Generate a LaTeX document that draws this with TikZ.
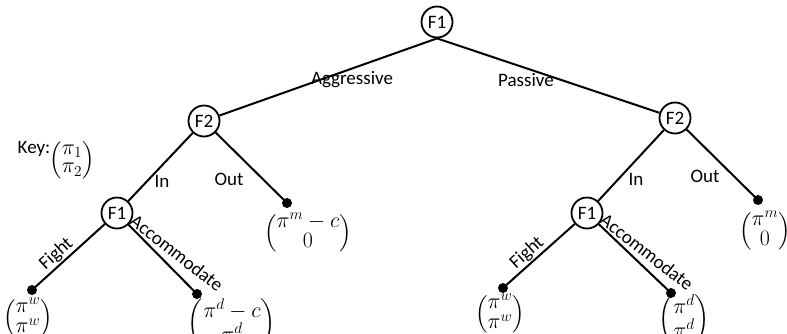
\RequirePackage{fix-cm}
\documentclass[tikz,border=0pt]{standalone}
\usepackage{amsmath}
\usepackage{fontspec}
\setmainfont{Carlito}
\begin{document}
\begin{tikzpicture}[x=1pt,y=-1pt,font=\fontsize{19}{23}\selectfont,
  dec/.style={circle,draw,line width=1.8pt,minimum size=31pt,inner sep=0pt},
  leaf/.style={circle,fill,inner sep=0pt,minimum size=10pt},
  br/.style={line width=2pt},
  lab/.style={inner sep=1pt},
  pay/.style={inner sep=0pt,font=\fontsize{22}{25}\selectfont\renewcommand{\arraystretch}{0.74}}]
\useasboundingbox (0,0) rectangle (787,333);
% decision nodes
\node[dec] (r) at (437,22) {F1};
\node[dec] (a) at (204,121) {F2};
\node[dec] (p) at (675,118) {F2};
\node[dec] (ai) at (117,213) {F1};
\node[dec] (pi) at (587,213) {F1};
% leaves
\node[leaf] (ao) at (287,203) {};
\node[leaf] (po) at (758,200) {};
\node[leaf] (af) at (32,290) {};
\node[leaf] (aa) at (197,294) {};
\node[leaf] (pf) at (503,288) {};
\node[leaf] (pa) at (671,293) {};
% branches
\draw[br] (r.south) -- (a);
\draw[br] (r.south) -- (p);
\draw[br] (a) -- (ai);
\draw[br] (a) -- (ao.center);
\draw[br] (p) -- (pi);
\draw[br] (p) -- (po.center);
\draw[br] (ai) -- node[lab,above,sloped,pos=0.57] {Fight} (af.center);
\draw[br] (ai) -- (aa.center);
\draw[br] (pi) -- node[lab,above,sloped,pos=0.57] {Fight} (pf.center);
\draw[br] (pi) -- (pa.center);
% branch labels
\node[lab] (lag) at (352,80) {Aggressive};
\node[lab] (lpa) at (526,80) {Passive};
\node[lab] (lai) at (162,181) {In};
\node[lab] (lao) at (229,179) {Out};
\node[lab] (lpi) at (636,179) {In};
\node[lab] (lpo) at (705,176) {Out};
\node[lab,rotate=-38] (lac) at (177,253) {Accommodate};
\node[lab,rotate=-38] (lpc) at (647,252) {Accommodate};
% key
\node[lab] (key) at (34,149) {Key:};
\node[pay] (keym) at (72,160) {$\begin{pmatrix}\pi_1\\ \pi_2\end{pmatrix}$};
% payoffs
\node[pay,anchor=north] (paf) at (28,298) {$\begin{pmatrix}\pi^w\\ \pi^w\end{pmatrix}$};
\node[pay,anchor=north] (paa) at (232,298) {$\begin{pmatrix}\pi^d-c\\ \pi^d\end{pmatrix}$};
\node[pay] (pao) at (308,233) {$\begin{pmatrix}\pi^m-c\\ 0\end{pmatrix}$};
\node[pay,anchor=north] (ppf) at (500,294) {$\begin{pmatrix}\pi^w\\ \pi^w\end{pmatrix}$};
\node[pay,anchor=north] (ppa) at (684,294) {$\begin{pmatrix}\pi^d\\ \pi^d\end{pmatrix}$};
\node[pay] (ppo) at (765,231) {$\begin{pmatrix}\pi^m\\ 0\end{pmatrix}$};
\end{tikzpicture}
\end{document}
